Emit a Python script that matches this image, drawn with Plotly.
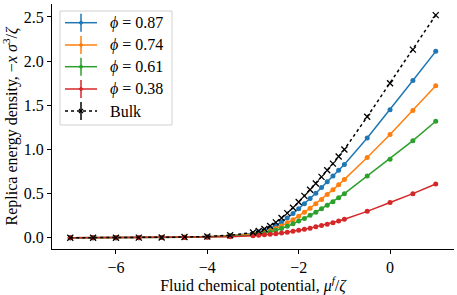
import plotly.graph_objects as go

# ---------------- data ----------------
mu = [-7.0, -6.5, -6.0, -5.5, -5.0, -4.5, -4.0, -3.5,
      -3.0, -2.875, -2.75, -2.625, -2.5, -2.375, -2.25, -2.125,
      -2.0, -1.875, -1.75, -1.625, -1.5, -1.375, -1.25, -1.125,
      -1.0, -0.5, 0.0, 0.5, 1.0]

phi_087 = [0.001, 0.001, 0.002, 0.003, 0.005, 0.008, 0.014, 0.026,
           0.05, 0.065, 0.085, 0.11, 0.14, 0.18, 0.225, 0.275,
           0.33, 0.385, 0.445, 0.505, 0.57, 0.635, 0.70, 0.765,
           0.83, 1.13, 1.45, 1.78, 2.11]
phi_074 = [0.001, 0.001, 0.002, 0.003, 0.004, 0.007, 0.012, 0.022,
           0.04, 0.05, 0.063, 0.08, 0.105, 0.135, 0.17, 0.205,
           0.245, 0.29, 0.335, 0.385, 0.435, 0.49, 0.545, 0.60,
           0.66, 0.91, 1.17, 1.44, 1.72]
phi_061 = [0.001, 0.001, 0.002, 0.002, 0.004, 0.006, 0.010, 0.018,
           0.03, 0.04, 0.05, 0.065, 0.085, 0.105, 0.13, 0.16,
           0.19, 0.22, 0.255, 0.29, 0.33, 0.37, 0.41, 0.455,
           0.50, 0.70, 0.89, 1.10, 1.32]
phi_038 = [0.000, 0.001, 0.001, 0.002, 0.003, 0.005, 0.008, 0.014,
           0.025, 0.029, 0.034, 0.04, 0.047, 0.055, 0.064, 0.074,
           0.085, 0.097, 0.11, 0.125, 0.14, 0.155, 0.172, 0.19,
           0.21, 0.30, 0.40, 0.50, 0.61]
bulk = [0.001, 0.001, 0.002, 0.003, 0.005, 0.009, 0.016, 0.030,
        0.06, 0.078, 0.10, 0.135, 0.175, 0.225, 0.28, 0.34,
        0.405, 0.475, 0.545, 0.615, 0.69, 0.765, 0.84, 0.92,
        1.00, 1.37, 1.75, 2.13, 2.52]

series_names = ["<i>ϕ</i> = 0.87", "<i>ϕ</i> = 0.74", "<i>ϕ</i> = 0.61", "<i>ϕ</i> = 0.38", "Bulk"]
series_vals = [phi_087, phi_074, phi_061, phi_038, bulk]
colors = ["#1f77b4", "#ff7f0e", "#2ca02c", "#d62728", "black"]

x_ticks = [-6, -4, -2, 0]
y_ticks = [0.0, 0.5, 1.0, 1.5, 2.0, 2.5]
y_tick_labels = ["0.0", "0.5", "1.0", "1.5", "2.0", "2.5"]

FONT = "Liberation Serif"
FS = 16
W, H = 457, 295
L, R, T, B = 52, 3, 4, 46

fig = go.Figure()
for name, vals, col in zip(series_names, series_vals, colors):
    if name == "Bulk":
        fig.add_trace(go.Scatter(x=mu, y=vals, mode="lines+markers", name=name,
                                 line=dict(color=col, width=1.5, dash="dot"),
                                 marker=dict(symbol="x-thin", size=6,
                                             line=dict(color=col, width=1.3))))
    else:
        fig.add_trace(go.Scatter(x=mu, y=vals, mode="lines+markers", name=name,
                                 line=dict(color=col, width=1.5),
                                 marker=dict(symbol="circle", size=5, color=col)))

# ---------- custom legend (matplotlib-like errorbar handles) ----------
pw, ph = W - L - R, H - T - B
def px(x):
    return (x - L) / pw
def py(y):
    return (H - B - y) / ph

shapes = []
annotations = []
shapes.append(dict(type="rect", xref="paper", yref="paper",
                   x0=px(60), x1=px(172), y0=py(125), y1=py(11),
                   line=dict(color="#d0d0d0", width=1), fillcolor="rgba(255,255,255,0.85)",
                   layer="above"))
rows = [22.7, 45, 66.7, 89, 111]
for name, col, ry in zip(series_names, colors, rows):
    dash = "dot" if name == "Bulk" else "solid"
    shapes.append(dict(type="line", xref="paper", yref="paper",
                       x0=px(65), x1=px(97), y0=py(ry), y1=py(ry),
                       line=dict(color=col, width=1.5, dash=dash), layer="above"))
    shapes.append(dict(type="line", xref="paper", yref="paper",
                       x0=px(81), x1=px(81), y0=py(ry - 9), y1=py(ry + 9),
                       line=dict(color=col, width=1.5), layer="above"))
    if name == "Bulk":
        shapes.append(dict(type="line", xref="paper", yref="paper",
                           x0=px(79), x1=px(83), y0=py(ry - 2), y1=py(ry + 2),
                           line=dict(color=col, width=1.2), layer="above"))
        shapes.append(dict(type="line", xref="paper", yref="paper",
                           x0=px(79), x1=px(83), y0=py(ry + 2), y1=py(ry - 2),
                           line=dict(color=col, width=1.2), layer="above"))
    else:
        shapes.append(dict(type="circle", xref="paper", yref="paper",
                           x0=px(79.5), x1=px(82.5), y0=py(ry + 1.5), y1=py(ry - 1.5),
                           line=dict(color=col, width=1), fillcolor=col, layer="above"))
    annotations.append(dict(xref="paper", yref="paper", x=px(108), y=py(ry),
                            text=name, showarrow=False, xanchor="left", yanchor="middle",
                            font=dict(family=FONT, size=FS, color="black")))

fig.update_layout(
    width=W, height=H,
    margin=dict(l=L, r=R, t=T, b=B, pad=0, autoexpand=False),
    paper_bgcolor="white", plot_bgcolor="white",
    showlegend=False,
    font=dict(family=FONT, size=FS, color="black"),
    shapes=shapes, annotations=annotations,
    xaxis=dict(range=[-7.4, 1.4], tickvals=x_ticks, ticks="outside", ticklen=4,
               tickwidth=1, tickcolor="black", showline=True, linecolor="black",
               linewidth=1, showgrid=False, zeroline=False, automargin=False,
               tickfont=dict(family=FONT, size=FS),
               title=dict(text="Fluid chemical potential, <i>μ</i><sup><i>f</i></sup>/<i>ζ</i>",
                          font=dict(family=FONT, size=FS), standoff=4)),
    yaxis=dict(range=[-0.126, 2.646], tickvals=y_ticks, ticktext=y_tick_labels,
               ticks="outside", ticklen=4, tickwidth=1, tickcolor="black",
               showline=True, linecolor="black", linewidth=1, showgrid=False,
               zeroline=False, automargin=False, tickfont=dict(family=FONT, size=FS),
               title=dict(text="Replica energy density, −<i>x</i> <i>σ</i><sup>3</sup>/<i>ζ</i>",
                          font=dict(family=FONT, size=FS), standoff=5)),
)

fig.write_html("out.html", post_script="document.body.style.margin='0';",
               config={"displayModeBar": False})
